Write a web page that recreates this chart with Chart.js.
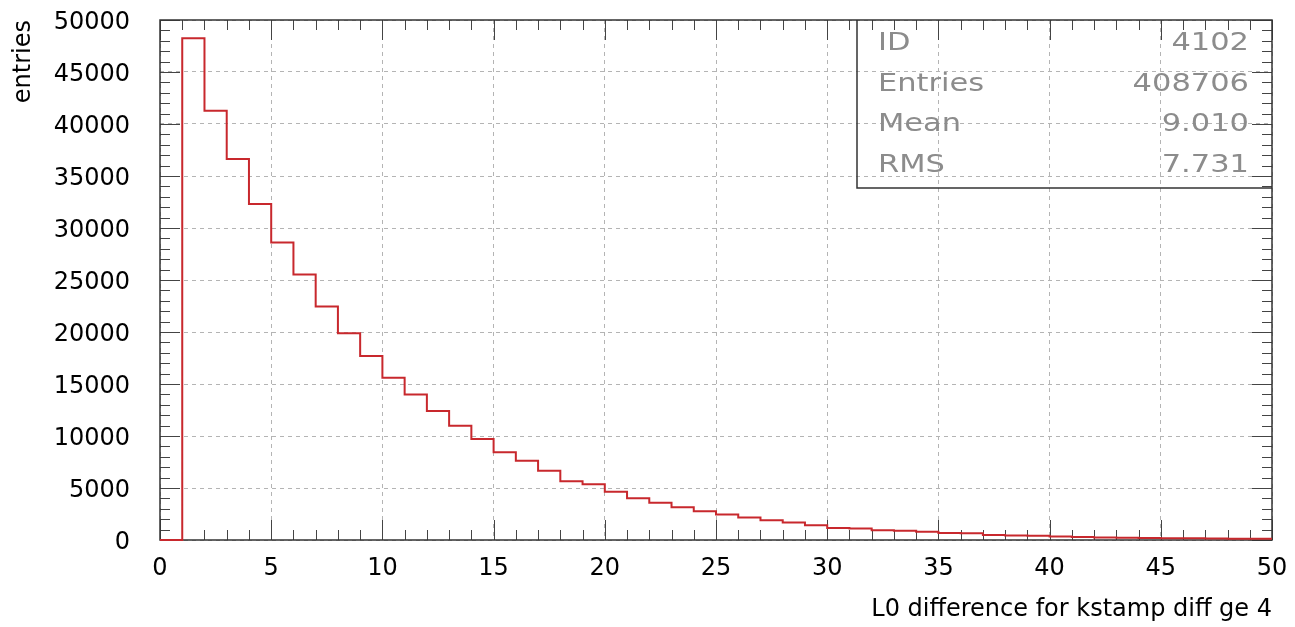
<!DOCTYPE html>
<html>
<head>
<meta charset="utf-8">
<title>L0 difference for kstamp diff ge 4</title>
<script src="https://cdn.jsdelivr.net/npm/chart.js@4.4.0/dist/chart.umd.min.js"></script>
<style>
    html, body { margin: 0; padding: 0; background: #fff; }
    canvas { display: block; }
</style>
</head>
<body>
<canvas id="histo" width="1295" height="627"></canvas>
<script>
// histogram 4102 - bin low edges (width 1) and contents
const binLow = [0, 1, 2, 3, 4, 5, 6, 7, 8, 9,
    10, 11, 12, 13, 14, 15, 16, 17, 18, 19,
    20, 21, 22, 23, 24, 25, 26, 27, 28, 29,
    30, 31, 32, 33, 34, 35, 36, 37, 38, 39,
    40, 41, 42, 43, 44, 45, 46, 47, 48, 49];
const entries = [0, 48250, 41280, 36630, 32300, 28600, 25520, 22450, 19870, 17690,
    15610, 14000, 12400, 10990, 9710, 8440, 7630, 6670, 5640, 5360,
    4650, 4010, 3570, 3150, 2770, 2450, 2170, 1910, 1690, 1430,
    1160, 1110, 930, 880, 800, 680, 640, 470, 440, 410,
    330, 300, 230, 210, 190, 170, 160, 140, 130, 120];

// tick labels
const xTicks = [0, 5, 10, 15, 20, 25, 30, 35, 40, 45, 50];
const yTicks = [0, 5000, 10000, 15000, 20000, 25000, 30000, 35000, 40000, 45000, 50000];

// stats box
const statNames = ['ID', 'Entries', 'Mean', 'RMS'];
const statValues = ['4102', '408706', '9.010', '7.731'];

const FONT = 'DejaVu Sans';

// step points: one per bin edge, last bin closed at its upper edge
const points = binLow.map((x, i) => ({ x: x, y: entries[i] }));
points.push({ x: binLow[binLow.length - 1] + 1, y: entries[entries.length - 1] });

// frame + inner ticks, under the histogram
const pawFrame = {
    id: 'pawFrame',
    beforeDatasetsDraw(chart) {
        const ctx = chart.ctx;
        const a = chart.chartArea;
        const x = chart.scales.x;
        const y = chart.scales.y;
        ctx.save();
        ctx.setLineDash([]);

        ctx.strokeStyle = '#444';
        ctx.lineWidth = 1;
        ctx.beginPath();
        for (let v = x.min; v <= x.max; v += 1) {
            const px = Math.round(x.getPixelForValue(v)) + 0.5;
            const len = v % 5 === 0 ? 20 : 10;
            ctx.moveTo(px, a.bottom); ctx.lineTo(px, a.bottom - len);
            ctx.moveTo(px, a.top); ctx.lineTo(px, a.top + len);
        }
        for (let v = y.min; v <= y.max; v += 1000) {
            const py = Math.round(y.getPixelForValue(v)) + 0.5;
            const len = v % 5000 === 0 ? 20 : 10;
            ctx.moveTo(a.left, py); ctx.lineTo(a.left + len, py);
            ctx.moveTo(a.right, py); ctx.lineTo(a.right - len, py);
        }
        ctx.stroke();

        ctx.strokeStyle = '#333';
        ctx.lineWidth = 1.5;
        ctx.strokeRect(a.left, a.top, a.right - a.left, a.bottom - a.top);
        ctx.restore();
    }
};

// stats box (ID / Entries / Mean / RMS)
const pawStats = {
    id: 'pawStats',
    afterDraw(chart) {
        const ctx = chart.ctx;
        const a = chart.chartArea;
        const bx = a.right - 415;
        const by = a.top + 168;
        ctx.save();
        ctx.setLineDash([]);
        ctx.strokeStyle = '#333';
        ctx.lineWidth = 1.5;
        ctx.beginPath();
        ctx.moveTo(bx, a.top);
        ctx.lineTo(bx, by);
        ctx.lineTo(a.right, by);
        ctx.stroke();

        ctx.fillStyle = '#8c8c8c';
        ctx.font = '25px "' + FONT + '"';
        ctx.textBaseline = 'middle';
        const sx = 1.22; // wide glyphs like the original
        statNames.forEach((name, i) => {
            const ty = a.top + 23.5 + i * 40.7;
            ctx.save();
            ctx.translate(bx + 21, ty);
            ctx.scale(sx, 1);
            ctx.textAlign = 'left';
            ctx.fillText(name, 0, 0);
            ctx.restore();

            ctx.save();
            ctx.translate(a.right - 23, ty);
            ctx.scale(sx, 1);
            ctx.textAlign = 'right';
            ctx.fillText(statValues[i], 0, 0);
            ctx.restore();
        });
        ctx.restore();
    }
};

const ctx = document.getElementById('histo').getContext('2d');
window.histoChart = new Chart(ctx, {
    type: 'line',
    data: {
        datasets: [{
            label: 'L0 difference',
            data: points,
            stepped: true,
            borderColor: '#c8282d',
            borderWidth: 2,
            pointRadius: 0,
            fill: false,
            clip: 2
        }]
    },
    options: {
        responsive: false,
        animation: false,
        devicePixelRatio: 1,
        layout: { padding: { top: 20, right: 23, left: 0, bottom: 0 } },
        plugins: {
            legend: { display: false },
            tooltip: { enabled: false }
        },
        scales: {
            x: {
                type: 'linear',
                min: 0,
                max: 50,
                afterBuildTicks: s => { s.ticks = xTicks.map(v => ({ value: v })); },
                afterFit: s => {
                    s.height = 87;
                    s.paddingLeft = 0;
                    s.paddingRight = 0;
                },
                ticks: {
                    color: '#000',
                    font: { family: FONT, size: 24 },
                    padding: 14,
                    maxRotation: 0,
                    autoSkip: false,
                    callback: v => String(v)
                },
                grid: { color: '#b4b4b4', lineWidth: 1, drawTicks: false },
                border: { display: false, dash: [4, 4] },
                title: {
                    display: true,
                    text: 'L0 difference for kstamp diff ge 4',
                    align: 'end',
                    color: '#000',
                    font: { family: FONT, size: 24 },
                    padding: { top: 0, bottom: 3 }
                }
            },
            y: {
                min: 0,
                max: 50000,
                afterBuildTicks: s => { s.ticks = yTicks.map(v => ({ value: v })); },
                afterFit: s => {
                    s.width = 160;
                    s.paddingTop = 0;
                    s.paddingBottom = 0;
                },
                ticks: {
                    color: '#000',
                    font: { family: FONT, size: 24 },
                    padding: 30,
                    labelOffset: 3,
                    autoSkip: false,
                    callback: v => String(v)
                },
                grid: { color: '#b4b4b4', lineWidth: 1, drawTicks: false },
                border: { display: false, dash: [4, 4] },
                title: {
                    display: true,
                    text: 'entries',
                    align: 'end',
                    color: '#000',
                    font: { family: FONT, size: 24 },
                    padding: { top: 9, bottom: 0 }
                }
            }
        }
    },
    plugins: [pawFrame, pawStats]
});
</script>
</body>
</html>
